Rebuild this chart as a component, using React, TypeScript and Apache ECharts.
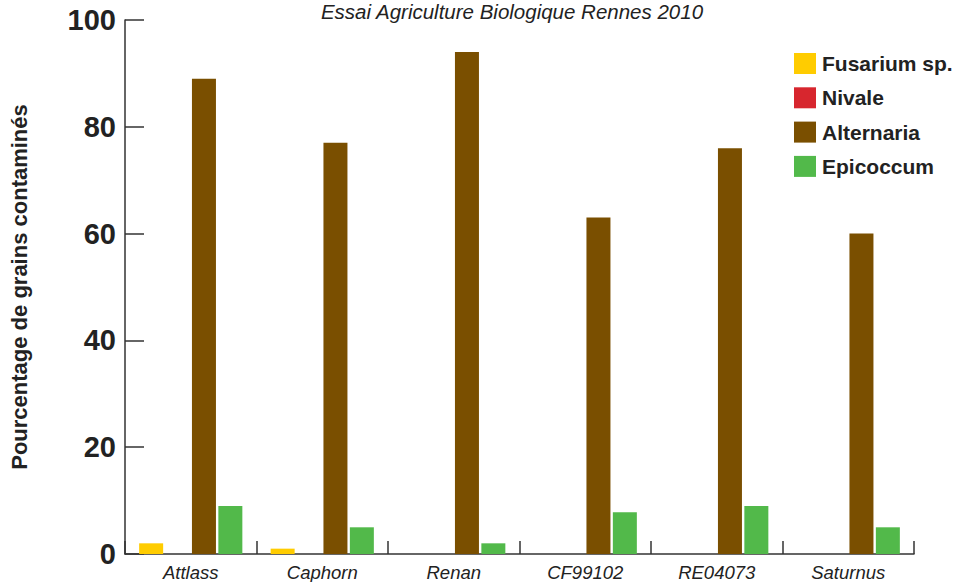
import React, { useEffect, useRef } from "react";
import * as echarts from "echarts";

const categories = ["Attlass", "Caphorn", "Renan", "CF99102", "RE04073", "Saturnus"];
const fusarium = [2, 1, 0, 0, 0, 0];
const nivale = [0, 0, 0, 0, 0, 0];
const alternaria = [89, 77, 94, 63, 76, 60];
const epicoccum = [9, 5, 2, 7.8, 9, 5];
const yTicks = [0, 20, 40, 60, 80, 100];

const FONT = "'Liberation Sans', Arial, Helvetica, sans-serif";

export default function App() {
  const ref = useRef<HTMLDivElement>(null);
  useEffect(() => {
    const chart = echarts.init(ref.current!, null, { renderer: "svg" });
    const mk = (name: string, data: number[], color: string) => ({
      name,
      type: "bar",
      data,
      barWidth: 24,
      barGap: "10%",
      itemStyle: { color },
    });
    chart.setOption({
      animation: false,
      textStyle: { fontFamily: FONT },
      title: {
        text: "Essai Agriculture Biologique Rennes 2010",
        left: 512,
        textAlign: "center",
        top: 1,
        padding: 0,
        textStyle: { fontFamily: FONT, fontStyle: "italic", fontWeight: "normal", fontSize: 20.5, color: "#222" },
      },
      legend: {
        orient: "vertical",
        left: 794,
        top: 53,
        padding: 0,
        itemWidth: 22,
        itemHeight: 21,
        itemGap: 13.3,
        icon: "rect",
        textStyle: { fontFamily: FONT, fontWeight: "bold", fontSize: 21, color: "#222", padding: [0, 0, 0, 1] },
        data: ["Fusarium sp.", "Nivale", "Alternaria", "Epicoccum"],
      },
      grid: { left: 122, right: 43, top: 20, bottom: 26, containLabel: false },
      xAxis: {
        type: "category",
        data: categories,
        axisLine: { lineStyle: { color: "#333", width: 1.5 } },
        axisTick: { show: true, inside: true, length: 13, lineStyle: { color: "#333", width: 1.5 } },
        axisLabel: { fontFamily: FONT, fontStyle: "italic", fontSize: 18.5, color: "#222", margin: 9 },
      },
      yAxis: {
        type: "value",
        min: yTicks[0],
        max: yTicks[yTicks.length - 1],
        interval: 20,
        name: "Pourcentage de grains contaminés",
        nameLocation: "middle",
        nameGap: 95,
        nameTextStyle: { fontFamily: FONT, fontWeight: "bold", fontSize: 22, color: "#222" },
        splitLine: { show: false },
        axisLine: { show: true, lineStyle: { color: "#333", width: 1.5 } },
        axisTick: { show: true, inside: true, length: 19, lineStyle: { color: "#333", width: 1.5 } },
        axisLabel: { fontFamily: FONT, fontWeight: "bold", fontSize: 29, color: "#222", margin: 9 },
      },
      series: [
        mk("Fusarium sp.", fusarium, "#FFCC00"),
        mk("Nivale", nivale, "#D7262E"),
        mk("Alternaria", alternaria, "#7A4F00"),
        mk("Epicoccum", epicoccum, "#52B94A"),
      ],
    });
    return () => chart.dispose();
  }, []);
  return <div ref={ref} style={{ width: 957, height: 582, position: "absolute", left: 0, top: 0 }} />;
}
